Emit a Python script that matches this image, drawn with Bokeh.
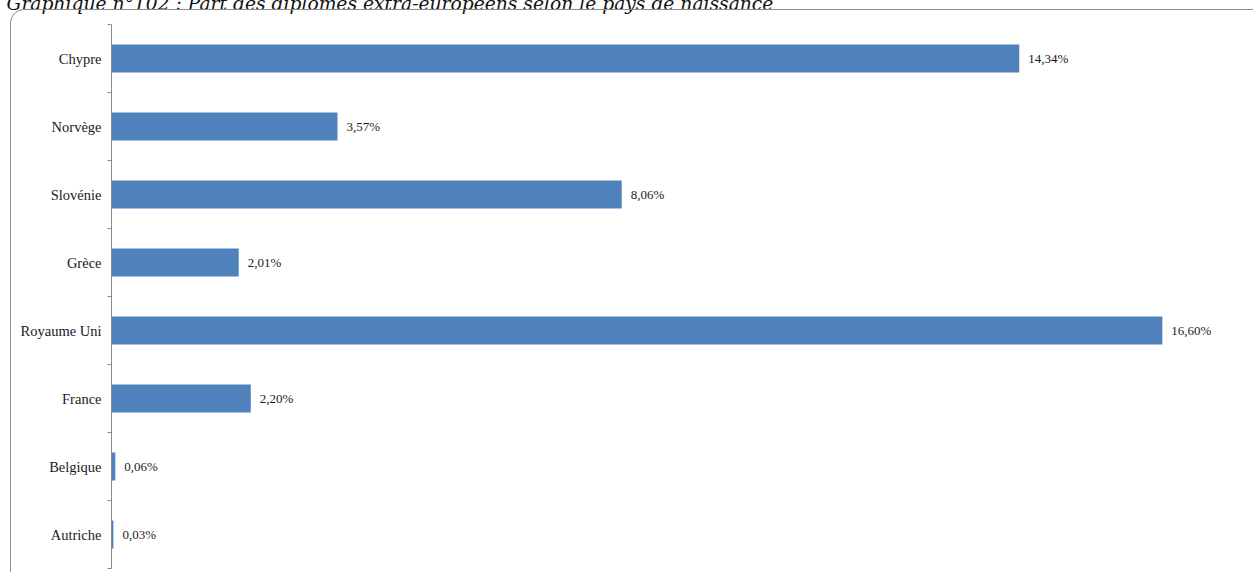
from bokeh.plotting import figure
from bokeh.models import (Range1d, FixedTicker, ColumnDataSource,
                          GlobalInlineStyleSheet, InlineStyleSheet)
from bokeh.core.properties import value
from bokeh.embed import file_html
from bokeh.resources import INLINE

# ---- data (top to bottom as shown) ----
countries = ["Chypre", "Norvège", "Slovénie", "Grèce", "Royaume Uni", "France", "Belgique", "Autriche"]
shares = [14.34, 3.57, 8.06, 2.01, 16.60, 2.20, 0.06, 0.03]
title_text = "Graphique n°102 : Part des diplômés extra-européens selon le pays de naissance"

# bottom-to-top order for the numeric band axis
cats_bt = countries[::-1]
vals_bt = shares[::-1]
n = len(cats_bt)
centers = [i + 0.5 for i in range(n)]
labels = [f"{v:.2f}".replace(".", ",") + "%" for v in vals_bt]

src = ColumnDataSource(dict(y=centers, v=vals_bt, lab=labels, name=cats_bt))

SERIF = "Liberation Serif"
BAR = "#4F81BD"
AXIS = "#8a8a8a"
SHIFT = 28  # canvas rows hidden above the window top (title is cut off in the reference)

p = figure(width=1253, height=572 + SHIFT, output_backend="svg", toolbar_location=None,
           x_range=Range1d(0, 18.04), y_range=Range1d(0, n),
           x_axis_location=None, min_border_left=111, min_border_right=0,
           min_border_top=24 + SHIFT, min_border_bottom=4)
p.outline_line_color = None
p.grid.visible = False
p.background_fill_color = "white"
p.border_fill_color = "white"

p.title.text = title_text
p.title.align = "left"
p.title.offset = -105
p.title.standoff = 21
p.title.text_font = "DejaVu Serif"
p.title.text_font_style = "italic"
p.title.text_font_size = "18.7px"
p.title.text_color = "#111111"

page_css = GlobalInlineStyleSheet(css="html, body { margin: 0 !important; padding: 0; overflow: hidden !important; }")
frame_css = InlineStyleSheet(css=(
    ":host { margin-top: -%dpx !important; }\n"
    ":host::after { content: '' !important; position: absolute !important; "
    "left: 10px !important; top: %dpx !important; right: auto !important; bottom: auto !important; "
    "width: 1700px !important; height: 1000px !important; max-width: none !important; max-height: none !important; "
    "border: 1.3px solid #8c8c8c !important; border-radius: 14px !important; "
    "pointer-events: none; z-index: 5; }" % (SHIFT, 9 + SHIFT)
))
p.stylesheets = [page_css, frame_css]

p.hbar(y="y", right="v", left=0, height=0.41, source=src, fill_color=BAR, line_color=None)
p.text(x="v", y="y", text="lab", source=src, x_offset=9, text_baseline="middle",
       text_align="left", text_font=value(SERIF), text_font_size="13px", text_color="#1a1a1a")

ax = p.yaxis[0]
ax.ticker = FixedTicker(ticks=centers, minor_ticks=list(range(n + 1)))
ax.major_label_overrides = {c: name for c, name in zip(centers, cats_bt)}
ax.major_tick_in = 0
ax.major_tick_out = 0
ax.minor_tick_in = 0
ax.minor_tick_out = 4
ax.minor_tick_line_color = AXIS
ax.axis_line_color = AXIS
ax.major_label_standoff = 6
ax.major_label_text_font = SERIF
ax.major_label_text_font_size = "14.5px"
ax.major_label_text_color = "#1a1a1a"

open("out.html", "w").write(file_html(p, INLINE))
